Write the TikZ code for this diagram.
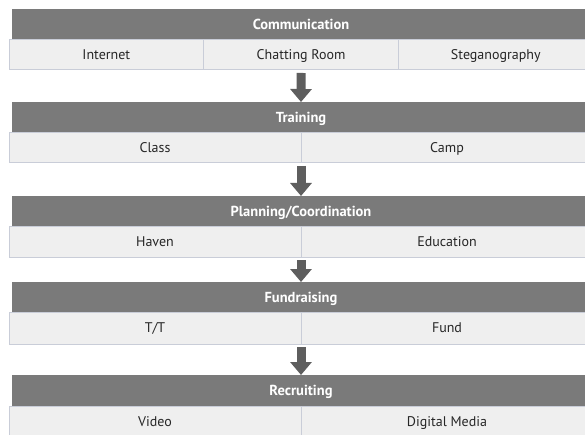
\documentclass[tikz,border=0pt]{standalone}
\usepackage{fontspec}
\setmainfont{PT Sans}
\usepackage{tikz}
\usetikzlibrary{positioning}
\usetikzlibrary{arrows.meta}
\definecolor{headgray}{HTML}{7A7A7A}
\definecolor{cellgray}{HTML}{EFEFEF}
\definecolor{cellline}{HTML}{C9CDD8}
\definecolor{arrowgray}{HTML}{5E5E5E}
\tikzset{
  header/.style={rectangle, fill=headgray, text=white, font=\bfseries\fontsize{14.5}{17}\selectfont, text height=1em, text depth=0.08em, minimum width=578pt, minimum height=31pt, inner sep=0pt, outer sep=0pt, anchor=north west},
  cell/.style={rectangle, draw=cellline, line width=1pt, fill=cellgray, text=black!85, font=\fontsize{14}{17}\selectfont, text height=1em, text depth=0.08em, minimum height=30pt, inner sep=0pt, outer sep=0pt, anchor=north west},
  downarrow/.style={draw=arrowgray, line width=9pt, -{Triangle[width=21pt,length=13pt]}, shorten <=3pt}
}

\begin{document}
\begin{tikzpicture}[x=1pt, y=-1pt]
\useasboundingbox (0,0) rectangle (585,435);
\clip (0,0) rectangle (585,435);
\node at (12,9) [header, name=Communication]{Communication};
\node at (9,40) [cell, name=Internet, minimum width=194.7pt]{Internet};
\node [cell, name=ChattingRoom, minimum width=194.7pt, right=0pt of Internet]{Chatting Room};
\node [cell, name=Steganography, minimum width=194.7pt, right=0pt of ChattingRoom]{Steganography};

\node at (12,102) [header, name=Training]{Training};
\node at (9,133) [cell, name=Class, minimum width=292pt]{Class};
\node [cell, name=Camp, minimum width=292pt, right=0pt of Class]{Camp};

\node at (12,196) [header, name=Planning]{Planning/Coordination};
\node at (9,227) [cell, name=Haven, minimum width=292pt]{Haven};
\node [cell, name=Education, minimum width=292pt, right=0pt of Haven]{Education};

\node at (12,282) [header, name=Fundraising]{Fundraising};
\node at (9,312) [cell, name=TT, minimum width=292pt, minimum height=32pt]{T/T};
\node [cell, name=Fund, minimum width=292pt, minimum height=32pt, right=0pt of TT]{Fund};

\node at (12,375) [header, name=Recruiting]{Recruiting};
\node at (9,406) [cell, name=Video, minimum width=292pt, minimum height=31pt]{Video};
\node [cell, name=DigitalMedia, minimum width=292pt, minimum height=31pt, right=0pt of Video]{Digital Media};

\draw [downarrow] (ChattingRoom.south) -- (Training.north);
\draw [downarrow] (Class.south east) -- (Planning.north);
\draw [downarrow] (Haven.south east) -- (Fundraising.north);
\draw [downarrow] (TT.south east) -- (Recruiting.north);
\end{tikzpicture}
\end{document}
